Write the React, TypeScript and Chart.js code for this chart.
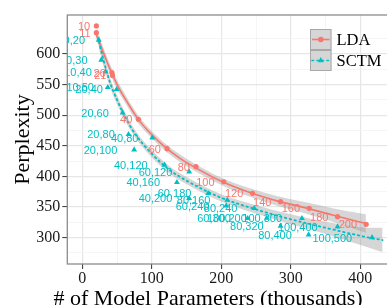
import React, { useEffect, useRef } from 'react';
import { Chart, registerables } from 'chart.js';

Chart.register(...registerables);

// ---------------- data ----------------
const ldaLabels = ['10', '11', '20', '21', '40', '60', '80', '100', '120', '140', '160', '180', '200'];
const ldaX = [20.2, 20.2, 42.6, 43.5, 80.7, 121.9, 163.6, 203.4, 244.9, 285.2, 326.4, 367.2, 408.4];
const ldaY = [645.8, 634.8, 569.5, 565.0, 493.3, 445.3, 415.9, 391.3, 372.4, 358.7, 347.9, 334.2, 321.7];

const sctmLabels = [
  '10,20', '10,30', '10,40', '10,50',
  '20,40', '20,60', '20,80', '20,100',
  '40,80', '40,120', '40,160', '40,200',
  '60,120', '60,180', '60,240', '60,300',
  '80,160', '80,240', '80,320', '80,400',
  '100,200', '100,300', '100,400', '100,500',
];
const sctmX = [
  23.7, 27.3, 33.4, 36.6,
  49.4, 57.9, 66.5, 74.6,
  100.6, 118.2, 136.1, 153.7,
  153.7, 181.1, 207.0, 237.9,
  208.5, 247.4, 285.2, 325.6,
  265.3, 316.0, 367.2, 416.9,
];
const sctmY = [
  622.9, 590.2, 571.1, 545.6,
  542.3, 504.1, 468.8, 443.6,
  463.2, 418.6, 390.4, 364.2,
  407.7, 372.4, 352.1, 331.5,
  361.4, 347.9, 318.9, 304.7,
  332.0, 331.5, 317.8, 300.2,
];

// smoothed fits with confidence band
const ldaFitX = [20, 30, 40, 50, 60, 80, 100, 120, 140, 160, 200, 240, 280, 320, 360, 408];
const ldaFitY = [632, 603, 575, 550, 530, 494, 468, 447, 430, 416, 392, 374, 360, 349, 337, 323];
const ldaFitHigh = [641, 611.5, 583, 557.5, 537, 500.5, 474, 453, 436, 422, 398, 381, 368, 358, 348, 338];
const ldaFitLow = [623, 594.5, 567, 542.5, 523, 487.5, 462, 441, 424, 410, 386, 367, 352, 340, 326, 308];

const sctmFitX = [24, 30, 40, 50, 60, 75, 100, 125, 150, 175, 200, 250, 300, 350, 417, 432];
const sctmFitY = [620, 592, 553, 525, 501, 471, 437, 411, 393, 378, 365, 346, 330, 316, 299, 296];
const sctmFitHigh = [632, 602, 561, 532, 508, 477, 443, 417, 399, 384, 371, 353, 338, 326, 316, 316];
const sctmFitLow = [608, 582, 545, 518, 494, 465, 431, 405, 387, 372, 359, 339, 322, 306, 282, 276];

// axes
const xMajorTicks = [0, 100, 200, 300, 400];
const xMinorTicks = [50, 150, 250, 350];
const yMajorTicks = [300, 350, 400, 450, 500, 550, 600];
const yMinorTicks = [275, 325, 375, 425, 475, 525, 575, 625];
const X_MIN = -21.6;
const X_MAX = 439.8;
const Y_MIN = 256.9;
const Y_MAX = 663.7;

const xTitle = '# of Model Parameters (thousands)';
const yTitle = 'Perplexity';
const seriesNames = ['LDA', 'SCTM'];

const RED = '#F8766D';
const CYAN = '#00BFC4';
const RIBBON = 'rgba(153,153,153,0.4)';
const SERIF = '"Liberation Serif", "Times New Roman", serif';
const SANS = '"Liberation Sans", Arial, sans-serif';

const pts = (xs: number[], ys: number[]) => xs.map((x, i) => ({ x, y: ys[i] }));

const decorPlugin = {
  id: 'decor',
  afterDatasetsDraw(chart: any) {
    const { ctx, chartArea } = chart;
    ctx.save();
    ctx.beginPath();
    ctx.rect(chartArea.left, chartArea.top, chartArea.right - chartArea.left, chartArea.bottom - chartArea.top);
    ctx.clip();
    ctx.font = `11px ${SANS}`;
    ctx.textAlign = 'center';
    ctx.textBaseline = 'middle';
    const drawLabels = (dsIndex: number, labels: string[], color: string) => {
      const meta = chart.getDatasetMeta(dsIndex);
      ctx.fillStyle = color;
      meta.data.forEach((el: any, i: number) => {
        const w = ctx.measureText(labels[i]).width;
        ctx.fillText(labels[i], el.x - w, el.y + 1);
      });
    };
    drawLabels(6, ldaLabels, RED);
    drawLabels(7, sctmLabels, CYAN);
    ctx.restore();
  },
  afterDraw(chart: any) {
    const { ctx, chartArea } = chart;
    ctx.save();
    // panel border
    ctx.strokeStyle = '#8c8c8c';
    ctx.lineWidth = 1.3;
    ctx.strokeRect(chartArea.left, chartArea.top, chartArea.right - chartArea.left, chartArea.bottom - chartArea.top);

    // legend
    const kx = 310;
    const kw = 21.5;
    const keys = [
      { top: 29, h: 21, name: seriesNames[0], color: RED, shape: 'circle' },
      { top: 50, h: 21, name: seriesNames[1], color: CYAN, shape: 'triangle' },
    ];
    keys.forEach((k) => {
      ctx.fillStyle = '#d6d6d6';
      ctx.fillRect(kx, k.top, kw, k.h);
      ctx.strokeStyle = '#a8a8a8';
      ctx.lineWidth = 1;
      ctx.strokeRect(kx + 0.5, k.top + 0.5, kw - 1, k.h - 1);
      const cy = k.top + k.h / 2;
      ctx.strokeStyle = k.color;
      ctx.lineWidth = 1.6;
      if (k.shape === 'triangle') {
        ctx.setLineDash([1.5, 3.5]);
        ctx.lineCap = 'round';
      }
      ctx.beginPath();
      ctx.moveTo(kx + 2, cy);
      ctx.lineTo(kx + kw - 2, cy);
      ctx.stroke();
      ctx.setLineDash([]);
      ctx.fillStyle = k.color;
      ctx.beginPath();
      if (k.shape === 'circle') {
        ctx.arc(kx + kw / 2, cy, 2.8, 0, Math.PI * 2);
      } else {
        const r = 3.4;
        const cx = kx + kw / 2;
        ctx.moveTo(cx, cy - r);
        ctx.lineTo(cx + r * 0.866, cy + r * 0.5);
        ctx.lineTo(cx - r * 0.866, cy + r * 0.5);
        ctx.closePath();
      }
      ctx.fill();
      ctx.fillStyle = '#000';
      ctx.font = `16.5px ${SERIF}`;
      ctx.textAlign = 'left';
      ctx.textBaseline = 'middle';
      ctx.fillText(k.name, kx + kw + 5, cy + 1);
    });

    // axis titles
    ctx.fillStyle = '#000';
    ctx.font = `22px ${SERIF}`;
    ctx.textAlign = 'center';
    ctx.textBaseline = 'alphabetic';
    ctx.fillText(xTitle, 208, 305);
    ctx.save();
    ctx.translate(29, (chartArea.top + chartArea.bottom) / 2);
    ctx.rotate(-Math.PI / 2);
    ctx.fillText(yTitle, 0, 0);
    ctx.restore();
    ctx.restore();
  },
};

export default function App() {
  const canvasRef = useRef<HTMLCanvasElement | null>(null);

  useEffect(() => {
    document.body.style.margin = '0';
    document.body.style.overflow = 'hidden';
    const canvas = canvasRef.current;
    if (!canvas) return;

    const isMajorX = (v: number) => xMajorTicks.includes(v);
    const isMajorY = (v: number) => yMajorTicks.includes(v);

    const chart = new Chart(canvas, {
      type: 'scatter',
      data: {
        datasets: [
          {
            type: 'line',
            data: pts(ldaFitX, ldaFitHigh),
            borderWidth: 0,
            pointRadius: 0,
            fill: '+1',
            backgroundColor: RIBBON,
            borderColor: 'transparent',
            cubicInterpolationMode: 'monotone',
            order: 5,
          },
          {
            type: 'line',
            data: pts(ldaFitX, ldaFitLow),
            borderWidth: 0,
            pointRadius: 0,
            fill: false,
            borderColor: 'transparent',
            cubicInterpolationMode: 'monotone',
            order: 5,
          },
          {
            type: 'line',
            data: pts(sctmFitX, sctmFitHigh),
            borderWidth: 0,
            pointRadius: 0,
            fill: '+1',
            backgroundColor: RIBBON,
            borderColor: 'transparent',
            cubicInterpolationMode: 'monotone',
            order: 4,
          },
          {
            type: 'line',
            data: pts(sctmFitX, sctmFitLow),
            borderWidth: 0,
            pointRadius: 0,
            fill: false,
            borderColor: 'transparent',
            cubicInterpolationMode: 'monotone',
            order: 4,
          },
          {
            type: 'line',
            data: pts(ldaFitX, ldaFitY),
            borderColor: RED,
            borderWidth: 1.6,
            pointRadius: 0,
            fill: false,
            cubicInterpolationMode: 'monotone',
            order: 3,
          },
          {
            type: 'line',
            data: pts(sctmFitX, sctmFitY),
            borderColor: CYAN,
            borderWidth: 1.8,
            borderDash: [1.5, 3.5],
            borderCapStyle: 'round',
            pointRadius: 0,
            fill: false,
            cubicInterpolationMode: 'monotone',
            order: 2,
          },
          {
            label: seriesNames[0],
            data: pts(ldaX, ldaY),
            backgroundColor: RED,
            borderColor: RED,
            pointRadius: 2.6,
            pointStyle: 'circle',
            borderWidth: 0,
            order: 1,
          },
          {
            label: seriesNames[1],
            data: pts(sctmX, sctmY),
            backgroundColor: CYAN,
            borderColor: CYAN,
            pointRadius: 3.4,
            pointStyle: 'triangle',
            borderWidth: 0,
            order: 0,
          },
        ],
      },
      options: {
        responsive: false,
        animation: false,
        devicePixelRatio: 1,
        layout: { padding: { top: 15, left: 0, right: 0, bottom: 0 } },
        plugins: {
          legend: { display: false },
          tooltip: { enabled: false },
        },
        scales: {
          x: {
            type: 'linear',
            min: X_MIN,
            max: X_MAX,
            afterBuildTicks: (scale: any) => {
              scale.ticks = [...xMajorTicks, ...xMinorTicks].sort((a, b) => a - b).map((v) => ({ value: v }));
            },
            afterFit: (scale: any) => {
              scale.height = 41;
            },
            border: { display: false },
            grid: {
              color: (c: any) => (isMajorX(c.tick?.value) ? '#e6e6e6' : '#f3f3f3'),
              lineWidth: (c: any) => (isMajorX(c.tick?.value) ? 1.2 : 0.8),
              tickColor: (c: any) => (isMajorX(c.tick?.value) ? '#333' : 'rgba(0,0,0,0)'),
              tickLength: 5,
              tickWidth: 1,
            },
            ticks: {
              autoSkip: false,
              maxRotation: 0,
              padding: 0,
              color: '#1a1a1a',
              font: { family: SERIF, size: 16 },
              callback: (v: any) => (isMajorX(Number(v)) ? String(v) : ''),
            },
          },
          y: {
            type: 'linear',
            min: Y_MIN,
            max: Y_MAX,
            afterBuildTicks: (scale: any) => {
              scale.ticks = [...yMajorTicks, ...yMinorTicks].sort((a, b) => a - b).map((v) => ({ value: v }));
            },
            afterFit: (scale: any) => {
              scale.width = 67.3;
            },
            border: { display: false },
            grid: {
              color: (c: any) => (isMajorY(c.tick?.value) ? '#e6e6e6' : '#f3f3f3'),
              lineWidth: (c: any) => (isMajorY(c.tick?.value) ? 1.2 : 0.8),
              tickColor: (c: any) => (isMajorY(c.tick?.value) ? '#333' : 'rgba(0,0,0,0)'),
              tickLength: 5,
              tickWidth: 1,
            },
            ticks: {
              autoSkip: false,
              padding: 2,
              color: '#1a1a1a',
              font: { family: SERIF, size: 16 },
              callback: (v: any) => (isMajorY(Number(v)) ? String(v) : ''),
            },
          },
        },
      } as any,
      plugins: [decorPlugin],
    });

    return () => {
      chart.destroy();
    };
  }, []);

  return (
    <div style={{ position: 'fixed', left: 0, top: 0, width: 387, height: 305, overflow: 'hidden', background: '#fff' }}>
      <canvas ref={canvasRef} width={392} height={305} style={{ display: 'block', width: 392, height: 305 }} />
    </div>
  );
}
